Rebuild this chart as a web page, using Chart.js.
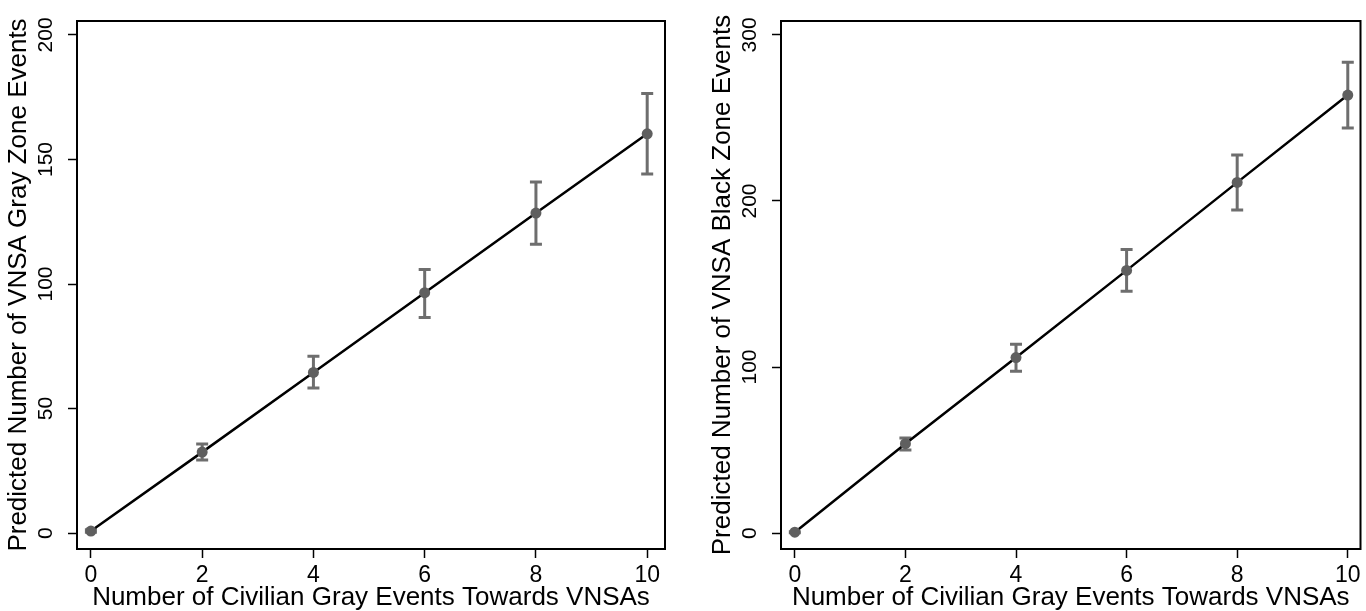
<!DOCTYPE html>
<html>
<head>
<meta charset="utf-8">
<script src="https://cdn.jsdelivr.net/npm/chart.js@4/dist/chart.umd.min.js"></script>
<style>
  html, body { margin: 0; padding: 0; background: #fff; overflow: hidden; }
  #wrap { position: relative; width: 1366px; height: 611px; }
  canvas { position: absolute; top: 0; }
</style>
</head>
<body>
<div id="wrap">
  <canvas id="grayChart" width="683" height="611" style="left:0"></canvas>
  <canvas id="blackChart" width="683" height="611" style="left:683px"></canvas>
</div>
<script>
// civilian gray events (x) and predicted counts with 95% CIs
const civilianEvents = [0, 2, 4, 6, 8, 10];
const xTicks = [0, 2, 4, 6, 8, 10];

const grayPred = [0.8, 32.5, 64.5, 96.5, 128.5, 160.3];
const grayLo   = [0.3, 29.3, 58.2, 86.6, 116.0, 144.2];
const grayHi   = [1.3, 35.8, 71.0, 105.8, 141.0, 176.5];
const grayTicks = [0, 50, 100, 150, 200];

const blackPred = [0.5, 53.8, 105.7, 158.2, 211.2, 263.8];
const blackLo   = [0.2, 50.0, 97.5, 145.6, 194.5, 244.0];
const blackHi   = [0.8, 57.3, 113.7, 170.8, 227.7, 283.6];
const blackTicks = [0, 100, 200, 300];

const FONT = "'Liberation Sans', Arial, sans-serif";
const xTitle = 'Number of Civilian Gray Events Towards VNSAs';

// capped CI spikes, drawn under the line and markers
const errorBars = {
  id: 'errorBars',
  beforeDatasetsDraw(chart, args, opts) {
    const { ctx, scales: { x, y } } = chart;
    ctx.save();
    ctx.strokeStyle = '#6e6e6e';
    ctx.lineWidth = 3;
    opts.lo.forEach((lo, i) => {
      const px = x.getPixelForValue(civilianEvents[i]);
      const top = y.getPixelForValue(opts.hi[i]);
      const bot = y.getPixelForValue(lo);
      ctx.beginPath();
      ctx.moveTo(px, top); ctx.lineTo(px, bot);
      ctx.moveTo(px - 6, top); ctx.lineTo(px + 6, top);
      ctx.moveTo(px - 6, bot); ctx.lineTo(px + 6, bot);
      ctx.stroke();
    });
    ctx.restore();
  }
};

// plot region frame
const frame = {
  id: 'frame',
  afterDraw(chart) {
    const { ctx, chartArea: a } = chart;
    ctx.save();
    ctx.strokeStyle = '#000';
    ctx.lineWidth = 2;
    ctx.strokeRect(a.left, a.top, a.right - a.left, a.bottom - a.top);
    ctx.restore();
  }
};

function makeChart(id, cfg) {
  const points = civilianEvents.map((v, i) => ({ x: v, y: cfg.pred[i] }));
  return new Chart(document.getElementById(id), {
    type: 'line',
    data: {
      datasets: [{
        data: points,
        borderColor: '#000',
        borderWidth: 2.5,
        pointRadius: 5.5,
        pointBackgroundColor: '#5f5f5f',
        pointBorderWidth: 0,
        tension: 0
      }]
    },
    options: {
      responsive: false,
      devicePixelRatio: 1,
      animation: false,
      layout: { padding: { top: 21, right: cfg.padRight, left: 0, bottom: 0 } },
      plugins: {
        legend: { display: false },
        tooltip: { enabled: false },
        errorBars: { lo: cfg.lo, hi: cfg.hi }
      },
      scales: {
        x: {
          type: 'linear',
          min: -0.25,
          max: cfg.xMax,
          afterBuildTicks: s => { s.ticks = xTicks.map(v => ({ value: v })); },
          afterFit: s => { s.height = 62; },
          border: { display: false },
          grid: { drawOnChartArea: false, drawTicks: true, tickLength: 9, tickColor: '#000', tickWidth: 1.5 },
          ticks: { color: '#000', font: { family: FONT, size: 23 }, padding: 4, maxRotation: 0 },
          title: { display: true, text: xTitle, color: '#000', font: { family: FONT, size: 26, lineHeight: 1 }, padding: { top: 0, bottom: 0 } }
        },
        y: {
          type: 'linear',
          min: cfg.yMin,
          max: cfg.yMax,
          afterBuildTicks: s => { s.ticks = cfg.yTicks.map(v => ({ value: v })); },
          afterFit: s => { s.width = cfg.yWidth; },
          border: { display: false },
          grid: { drawOnChartArea: false, drawTicks: true, tickLength: 9, tickColor: '#000', tickWidth: 1.5 },
          ticks: { color: '#000', font: { family: FONT, size: 21 }, padding: 4, minRotation: 90, maxRotation: 90, crossAlign: 'center' },
          title: { display: true, text: cfg.yTitle, color: '#000', font: { family: FONT, size: 26 }, padding: { top: cfg.yWidth - 58 - 15.6, bottom: 0 } }
        }
      }
    },
    plugins: [errorBars, frame]
  });
}

makeChart('grayChart', {
  pred: grayPred, lo: grayLo, hi: grayHi, yTicks: grayTicks,
  yMin: -6.4, yMax: 205.6, xMax: 10.32,
  yTitle: 'Predicted Number of VNSA Gray Zone Events',
  yWidth: 77, padRight: 18
});
makeChart('blackChart', {
  pred: blackPred, lo: blackLo, hi: blackHi, yTicks: blackTicks,
  yMin: -9.6, yMax: 308.4, xMax: 10.23,
  yTitle: 'Predicted Number of VNSA Black Zone Events',
  yWidth: 98, padRight: 0
});
</script>
</body>
</html>
